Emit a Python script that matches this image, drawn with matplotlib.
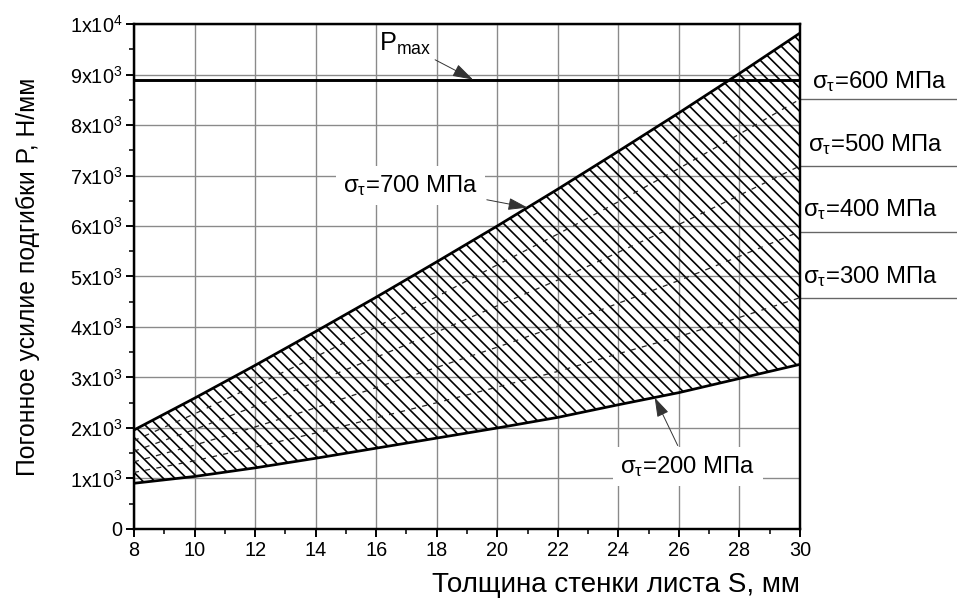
import numpy as np
import matplotlib.pyplot as plt
from matplotlib import transforms
from matplotlib.ticker import MultipleLocator, FuncFormatter

plt.rcParams['font.family'] = ['Liberation Sans', 'DejaVu Sans']
plt.rcParams['mathtext.fontset'] = 'custom'
plt.rcParams['mathtext.rm'] = 'Liberation Sans'
plt.rcParams['mathtext.it'] = 'Liberation Sans'
plt.rcParams['mathtext.default'] = 'regular'
plt.rcParams['hatch.linewidth'] = 1.7
plt.rcParams['hatch.color'] = 'black'

# wall thickness S, mm
S = [8, 10, 12, 14, 16, 18, 20, 22, 24, 26, 28, 30]
# bending force per unit length P, N/mm, for yield stress 200..700 MPa
p200 = [905, 1040, 1210, 1400, 1600, 1800, 2000, 2210, 2460, 2700, 2980, 3260]
p300 = [1120, 1350, 1620, 1900, 2200, 2500, 2810, 3120, 3470, 3810, 4190, 4580]
p400 = [1330, 1660, 2020, 2400, 2800, 3200, 3600, 4020, 4470, 4920, 5400, 5890]
p500 = [1540, 1970, 2430, 2910, 3400, 3900, 4420, 4930, 5480, 6030, 6610, 7190]
p600 = [1750, 2280, 2840, 3410, 4000, 4600, 5230, 5840, 6480, 7140, 7820, 8510]
p700 = [1960, 2590, 3240, 3910, 4590, 5290, 6000, 6730, 7480, 8240, 9020, 9820]
p_max = 8900

dashed = [p300, p400, p500, p600]
dashed_names = ['300', '400', '500', '600']

DPI = 70
fig = plt.figure(figsize=(957 / DPI, 602 / DPI), dpi=DPI)
ax = fig.add_axes([0.140, 0.1213, 0.6959, 0.8388])

ax.set_xlim(8, 30)
ax.set_ylim(0, 10000)
ax.xaxis.set_major_locator(MultipleLocator(2))
ax.xaxis.set_minor_locator(MultipleLocator(1))
ax.yaxis.set_major_locator(MultipleLocator(1000))
ax.yaxis.set_minor_locator(MultipleLocator(500))


def ytick_fmt(v, pos):
    if v == 0:
        return '0'
    if v >= 10000:
        return '1x10$^{4}$'
    return '%dx10$^{3}$' % round(v / 1000)


ax.yaxis.set_major_formatter(FuncFormatter(ytick_fmt))
ax.grid(True, which='major', color='#8a8a8a', lw=1.4)
ax.set_axisbelow(True)

for sp in ax.spines.values():
    sp.set_linewidth(2.5)
ax.tick_params(which='major', direction='out', length=8, width=2, labelsize=20.5, pad=4)
ax.tick_params(which='minor', direction='out', length=5, width=1.6)

# hatched band between 200 and 700 MPa
ax.fill_between(S, p200, p700, facecolor='none', edgecolor='black', hatch='\\\\', lw=0, zorder=2)
for p in dashed:
    ax.plot(S, p, color='#222222', lw=1.3, ls=(0, (4, 5)), zorder=3)
ax.plot(S, p200, color='black', lw=2.8, zorder=4)
ax.plot(S, p700, color='black', lw=2.8, zorder=4)
ax.axhline(p_max, color='black', lw=3, zorder=4)

# right-hand labels with leader lines at the curve ends
blend = transforms.blended_transform_factory(ax.transAxes, ax.transData)
text_x = [1.005, 1.005, 1.012, 1.018]
text_off = [15, 15, 15, 11]
for p, name, tx, off in zip(dashed, dashed_names, text_x, text_off):
    ax.plot([1.0, 1.24], [p[-1], p[-1]], transform=blend, clip_on=False,
            color='#666666', lw=1.4)
    tr = transforms.offset_copy(blend, fig=fig, y=off, units='dots')
    ax.text(tx, p[-1], r'$σ_τ$=%s МПа' % name, transform=tr, fontsize=24.5,
            ha='left', va='baseline')

arrow = dict(arrowstyle='-|>,head_length=0.7,head_width=0.22', color='#333333',
             lw=1.0, shrinkA=2, shrinkB=0)
box = dict(boxstyle='square,pad=0.3', fc='white', ec='none')

x700 = 21.0
ax.annotate(r'$σ_τ$=700 МПа', xy=(x700, np.interp(x700, S, p700)), xytext=(14.9, 6810),
            fontsize=24.5, ha='left', va='center', bbox=box, arrowprops=arrow, zorder=6)
x200 = 25.2
ax.annotate(r'$σ_τ$=200 МПа', xy=(x200, np.interp(x200, S, p200)), xytext=(26.3, 1230),
            fontsize=24.5, ha='center', va='center', bbox=box, arrowprops=arrow, zorder=6)
ax.annotate(r'P$_{max}$', xy=(19.2, p_max), xytext=(16.1, 9600),
            fontsize=26, ha='left', va='center', arrowprops=arrow, zorder=6)

ax.set_xlabel('Толщина стенки листа S, мм', fontsize=28.5, loc='right')
ax.xaxis.set_label_coords(1.0, -0.111)
ax.xaxis.label.set_va('center')
ax.set_ylabel('Погонное усилие подгибки P, Н/мм', fontsize=25.5)
ax.yaxis.set_label_coords(-0.159, 0.5)
ax.yaxis.label.set_va('center')

fig.savefig('out.png', dpi=DPI)
